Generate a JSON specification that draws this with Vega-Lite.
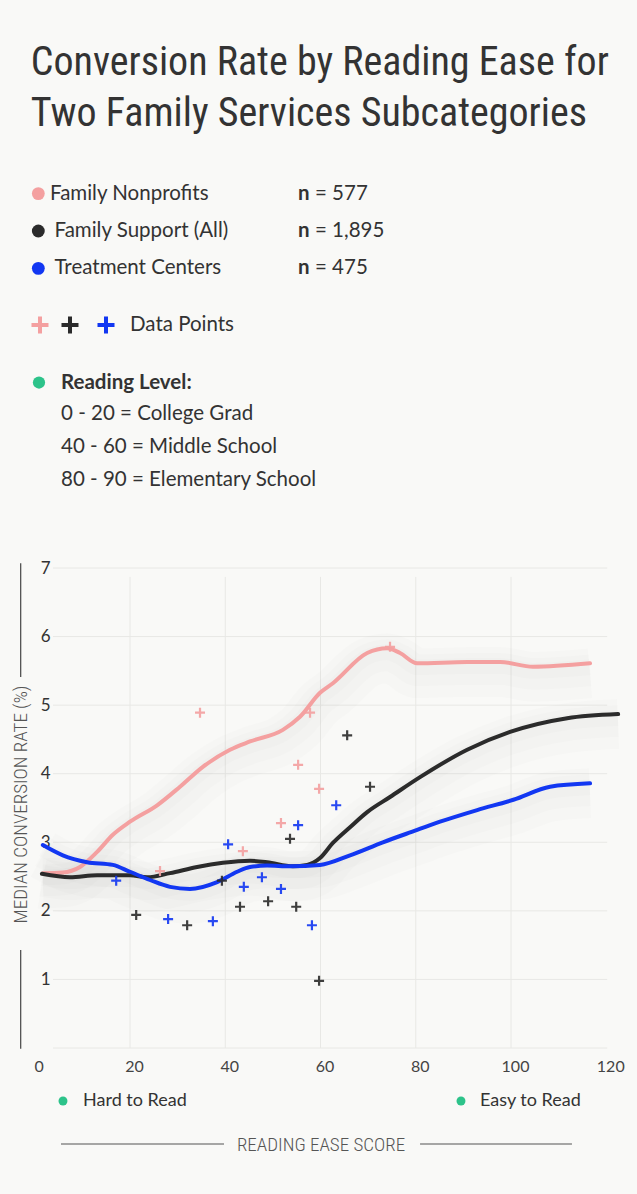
{
"$schema": "https://vega.github.io/schema/vega-lite/v6.json",
"autosize": {"type": "none"},
"width": 571.5,
"height": 480,
"padding": {"left": 34.75, "top": 568, "right": 30.75, "bottom": 146},
"background": "#f9f9f7",
"title": {"text": ["Conversion Rate by Reading Ease for", "Two Family Services Subcategories"], "anchor": "start", "frame": "group", "font": "Roboto Condensed, Liberation Sans Narrow, DejaVu Sans Condensed", "fontSize": 40, "fontWeight": "normal", "color": "#333333", "lineHeight": 51, "baseline": "bottom", "offset": 10, "dx": -4},
"config": {
  "view": {"stroke": null},
  "font": "Lato",
  "axis": {"domain": false, "ticks": false, "grid": false},
  "text": {"font": "Lato", "fontSize": 20.5, "color": "#333333", "align": "left", "baseline": "middle"}
},
"datasets": {
  "curves": [
    {"series": "Family Nonprofits", "score": 1.7, "rate": 2.55},
    {"series": "Family Nonprofits", "score": 5.9, "rate": 2.56},
    {"series": "Family Nonprofits", "score": 9.5, "rate": 2.64},
    {"series": "Family Nonprofits", "score": 13.1, "rate": 2.86},
    {"series": "Family Nonprofits", "score": 16.4, "rate": 3.11},
    {"series": "Family Nonprofits", "score": 20.0, "rate": 3.3},
    {"series": "Family Nonprofits", "score": 25.7, "rate": 3.54},
    {"series": "Family Nonprofits", "score": 30.5, "rate": 3.81},
    {"series": "Family Nonprofits", "score": 35.3, "rate": 4.1},
    {"series": "Family Nonprofits", "score": 41.0, "rate": 4.35},
    {"series": "Family Nonprofits", "score": 45.2, "rate": 4.47},
    {"series": "Family Nonprofits", "score": 52.1, "rate": 4.64},
    {"series": "Family Nonprofits", "score": 55.7, "rate": 4.83},
    {"series": "Family Nonprofits", "score": 59.9, "rate": 5.18},
    {"series": "Family Nonprofits", "score": 62.6, "rate": 5.32},
    {"series": "Family Nonprofits", "score": 69.8, "rate": 5.76},
    {"series": "Family Nonprofits", "score": 74.0, "rate": 5.83},
    {"series": "Family Nonprofits", "score": 76.7, "rate": 5.76},
    {"series": "Family Nonprofits", "score": 80.3, "rate": 5.61},
    {"series": "Family Nonprofits", "score": 90.8, "rate": 5.63},
    {"series": "Family Nonprofits", "score": 97.7, "rate": 5.63},
    {"series": "Family Nonprofits", "score": 104.6, "rate": 5.56},
    {"series": "Family Nonprofits", "score": 116.6, "rate": 5.61},
    {"series": "Family Support (All)", "score": 1.5, "rate": 2.54},
    {"series": "Family Support (All)", "score": 7.4, "rate": 2.49},
    {"series": "Family Support (All)", "score": 13.1, "rate": 2.52},
    {"series": "Family Support (All)", "score": 20.0, "rate": 2.52},
    {"series": "Family Support (All)", "score": 23.6, "rate": 2.49},
    {"series": "Family Support (All)", "score": 28.4, "rate": 2.55},
    {"series": "Family Support (All)", "score": 34.1, "rate": 2.64},
    {"series": "Family Support (All)", "score": 39.5, "rate": 2.7},
    {"series": "Family Support (All)", "score": 45.2, "rate": 2.73},
    {"series": "Family Support (All)", "score": 48.8, "rate": 2.71},
    {"series": "Family Support (All)", "score": 54.2, "rate": 2.65},
    {"series": "Family Support (All)", "score": 57.2, "rate": 2.67},
    {"series": "Family Support (All)", "score": 59.9, "rate": 2.77},
    {"series": "Family Support (All)", "score": 62.6, "rate": 2.99},
    {"series": "Family Support (All)", "score": 66.2, "rate": 3.22},
    {"series": "Family Support (All)", "score": 69.8, "rate": 3.44},
    {"series": "Family Support (All)", "score": 74.6, "rate": 3.66},
    {"series": "Family Support (All)", "score": 80.9, "rate": 3.95},
    {"series": "Family Support (All)", "score": 90.8, "rate": 4.35},
    {"series": "Family Support (All)", "score": 99.8, "rate": 4.61},
    {"series": "Family Support (All)", "score": 111.8, "rate": 4.81},
    {"series": "Family Support (All)", "score": 122.5, "rate": 4.87},
    {"series": "Treatment Centers", "score": 1.7, "rate": 2.96},
    {"series": "Treatment Centers", "score": 5.9, "rate": 2.81},
    {"series": "Treatment Centers", "score": 11.0, "rate": 2.71},
    {"series": "Treatment Centers", "score": 16.4, "rate": 2.67},
    {"series": "Treatment Centers", "score": 20.0, "rate": 2.57},
    {"series": "Treatment Centers", "score": 24.2, "rate": 2.45},
    {"series": "Treatment Centers", "score": 28.4, "rate": 2.35},
    {"series": "Treatment Centers", "score": 32.6, "rate": 2.32},
    {"series": "Treatment Centers", "score": 38.3, "rate": 2.42},
    {"series": "Treatment Centers", "score": 42.5, "rate": 2.57},
    {"series": "Treatment Centers", "score": 45.2, "rate": 2.64},
    {"series": "Treatment Centers", "score": 48.8, "rate": 2.66},
    {"series": "Treatment Centers", "score": 53.6, "rate": 2.65},
    {"series": "Treatment Centers", "score": 59.9, "rate": 2.67},
    {"series": "Treatment Centers", "score": 66.2, "rate": 2.81},
    {"series": "Treatment Centers", "score": 73.1, "rate": 3.0},
    {"series": "Treatment Centers", "score": 80.3, "rate": 3.18},
    {"series": "Treatment Centers", "score": 85.1, "rate": 3.3},
    {"series": "Treatment Centers", "score": 92.9, "rate": 3.47},
    {"series": "Treatment Centers", "score": 100.5, "rate": 3.62},
    {"series": "Treatment Centers", "score": 108.2, "rate": 3.81},
    {"series": "Treatment Centers", "score": 116.6, "rate": 3.86}
  ],
  "points": [
    {"series": "Family Nonprofits", "score": 26.3, "rate": 2.58},
    {"series": "Family Nonprofits", "score": 34.7, "rate": 4.89},
    {"series": "Family Nonprofits", "score": 43.7, "rate": 2.87},
    {"series": "Family Nonprofits", "score": 51.7, "rate": 3.28},
    {"series": "Family Nonprofits", "score": 55.3, "rate": 4.13},
    {"series": "Family Nonprofits", "score": 57.8, "rate": 4.89},
    {"series": "Family Nonprofits", "score": 59.7, "rate": 3.78},
    {"series": "Family Nonprofits", "score": 74.6, "rate": 5.85},
    {"series": "Family Support (All)", "score": 21.3, "rate": 1.94},
    {"series": "Family Support (All)", "score": 32.0, "rate": 1.79},
    {"series": "Family Support (All)", "score": 39.3, "rate": 2.44},
    {"series": "Family Support (All)", "score": 43.1, "rate": 2.06},
    {"series": "Family Support (All)", "score": 49.0, "rate": 2.14},
    {"series": "Family Support (All)", "score": 53.6, "rate": 3.05},
    {"series": "Family Support (All)", "score": 54.9, "rate": 2.06},
    {"series": "Family Support (All)", "score": 59.7, "rate": 0.98},
    {"series": "Family Support (All)", "score": 65.6, "rate": 4.56},
    {"series": "Family Support (All)", "score": 70.4, "rate": 3.81},
    {"series": "Treatment Centers", "score": 17.1, "rate": 2.44},
    {"series": "Treatment Centers", "score": 28.0, "rate": 1.88},
    {"series": "Treatment Centers", "score": 37.4, "rate": 1.85},
    {"series": "Treatment Centers", "score": 40.6, "rate": 2.97},
    {"series": "Treatment Centers", "score": 43.9, "rate": 2.35},
    {"series": "Treatment Centers", "score": 47.7, "rate": 2.49},
    {"series": "Treatment Centers", "score": 51.7, "rate": 2.32},
    {"series": "Treatment Centers", "score": 55.3, "rate": 3.25},
    {"series": "Treatment Centers", "score": 58.2, "rate": 1.79},
    {"series": "Treatment Centers", "score": 63.3, "rate": 3.54}
  ],
  "legend": [
    {"series": "Family Nonprofits", "label": "Family Nonprofits", "count": "= 577"},
    {"series": "Family Support (All)", "label": "Family Support (All)", "count": "= 1,895"},
    {"series": "Treatment Centers", "label": "Treatment Centers", "count": "= 475"}
  ],
  "notes": [
    {"key": "dp", "text": "Data Points"},
    {"key": "rl", "text": "Reading Level:"},
    {"key": "levels", "text": "0 - 20 = College Grad\n40 - 60 = Middle School\n80 - 90 = Elementary School"},
    {"key": "hard", "text": "Hard to Read"},
    {"key": "easy", "text": "Easy to Read"}
  ],
  "gridY": [{"rate": 0}, {"rate": 1}, {"rate": 2}, {"rate": 3}, {"rate": 4}, {"rate": 5}, {"rate": 6}, {"rate": 7}],
  "gridX": [{"score": 20}, {"score": 40}, {"score": 60}, {"score": 80}, {"score": 100}],
  "frame": [{"part": "x-title-left"}, {"part": "x-title-right"}, {"part": "y-title-top"}, {"part": "y-title-bottom"}]
},
"layer": [
  {"data": {"name": "gridY"}, "mark": {"type": "rule", "color": "#e8e8e5", "strokeWidth": 1},
   "encoding": {"y": {"field": "rate", "type": "quantitative"}, "x": {"datum": 3.83}, "x2": {"datum": 120.2}}},
  {"data": {"name": "gridX"}, "mark": {"type": "rule", "color": "#e8e8e5", "strokeWidth": 1},
   "encoding": {"x": {"field": "score", "type": "quantitative"}, "y": {"datum": 0}, "y2": {"datum": 6.87}}},
  {"data": {"name": "curves"}, "mark": {"type": "line", "interpolate": "monotone", "strokeWidth": 50, "color": "#000000", "opacity": 0.01, "yOffset": 10},
   "encoding": {"x": {"field": "score", "type": "quantitative"}, "y": {"field": "rate", "type": "quantitative"}, "detail": {"field": "series", "type": "nominal"}}},
  {"data": {"name": "curves"}, "mark": {"type": "line", "interpolate": "monotone", "strokeWidth": 32, "color": "#000000", "opacity": 0.01, "yOffset": 7},
   "encoding": {"x": {"field": "score", "type": "quantitative"}, "y": {"field": "rate", "type": "quantitative"}, "detail": {"field": "series", "type": "nominal"}}},
  {"data": {"name": "curves"}, "mark": {"type": "line", "interpolate": "monotone", "strokeWidth": 16, "color": "#000000", "opacity": 0.01, "yOffset": 4},
   "encoding": {"x": {"field": "score", "type": "quantitative"}, "y": {"field": "rate", "type": "quantitative"}, "detail": {"field": "series", "type": "nominal"}}},
  {"data": {"name": "curves"}, "mark": {"type": "line", "interpolate": "monotone", "strokeWidth": 4, "strokeCap": "round"},
   "encoding": {
     "x": {"field": "score", "type": "quantitative", "scale": {"domain": [0, 120], "nice": false, "zero": false},
       "axis": {"title": "READING EASE SCORE", "values": [0, 20, 40, 60, 80, 100, 120], "format": "d", "labelFont": "Lato", "labelFontSize": 16, "labelColor": "#444444", "labelPadding": 10, "labelFlush": false, "labelOffset": 4, "labelOverlap": false,
         "titleFont": "Roboto Condensed, Liberation Sans Narrow, DejaVu Sans Condensed", "titleFontSize": 19, "titleFontWeight": 300, "titleColor": "#555555", "titleY": 96, "titleBaseline": "middle"}},
     "y": {"field": "rate", "type": "quantitative", "scale": {"domain": [0, 7], "nice": false, "zero": false},
       "axis": {"title": "MEDIAN CONVERSION RATE (%)", "values": [1, 2, 3, 4, 5, 6, 7], "format": "d", "labelFont": "Lato", "labelFontSize": 17, "labelColor": "#333333", "labelPadding": -15.25, "labelAlign": "right", "labelBaseline": "middle", "labelFlush": false, "labelOverlap": false,
         "titleFont": "Roboto Condensed, Liberation Sans Narrow, DejaVu Sans Condensed", "titleFontSize": 19, "titleFontWeight": 300, "titleColor": "#555555", "titleAngle": 270, "titleX": -14.25, "titleY": 236, "titleAlign": "center", "titleBaseline": "middle"}},
     "color": {"field": "series", "type": "nominal", "scale": {"domain": ["Family Nonprofits", "Family Support (All)", "Treatment Centers"], "range": ["#F4A0A0", "#2B2B2B", "#1237F2"]}, "legend": null}
   }},
  {"data": {"name": "points"}, "mark": {"type": "point", "shape": "M-1,0L1,0M0,-1L0,1", "filled": false, "size": 100, "strokeWidth": 2.2, "opacity": 0.9},
   "encoding": {"x": {"field": "score", "type": "quantitative"}, "y": {"field": "rate", "type": "quantitative"}, "color": {"field": "series", "type": "nominal", "legend": null}}},

  {"data": {"name": "legend"}, "transform": [{"filter": "datum.series === 'Family Nonprofits'"}], "encoding": {"y": {"datum": 12.46}},
   "layer": [
     {"mark": {"type": "circle", "size": 165, "opacity": 1}, "encoding": {"x": {"datum": 0.75}, "color": {"field": "series", "type": "nominal", "legend": null}}},
     {"mark": {"type": "text"}, "encoding": {"x": {"datum": 3.2}, "text": {"field": "label"}}},
     {"mark": {"type": "text", "text": "n", "fontWeight": "bold"}, "encoding": {"x": {"datum": 55.27}}},
     {"mark": {"type": "text"}, "encoding": {"x": {"datum": 58.84}, "text": {"field": "count"}}}
   ]},
  {"data": {"name": "legend"}, "transform": [{"filter": "datum.series === 'Family Support (All)'"}], "encoding": {"y": {"datum": 11.915}},
   "layer": [
     {"mark": {"type": "circle", "size": 165, "opacity": 1}, "encoding": {"x": {"datum": 0.75}, "color": {"field": "series", "type": "nominal", "legend": null}}},
     {"mark": {"type": "text"}, "encoding": {"x": {"datum": 4.15}, "text": {"field": "label"}}},
     {"mark": {"type": "text", "text": "n", "fontWeight": "bold"}, "encoding": {"x": {"datum": 55.27}}},
     {"mark": {"type": "text"}, "encoding": {"x": {"datum": 58.84}, "text": {"field": "count"}}}
   ]},
  {"data": {"name": "legend"}, "transform": [{"filter": "datum.series === 'Treatment Centers'"}], "encoding": {"y": {"datum": 11.37}},
   "layer": [
     {"mark": {"type": "circle", "size": 165, "opacity": 1}, "encoding": {"x": {"datum": 0.75}, "color": {"field": "series", "type": "nominal", "legend": null}}},
     {"mark": {"type": "text"}, "encoding": {"x": {"datum": 4.15}, "text": {"field": "label"}}},
     {"mark": {"type": "text", "text": "n", "fontWeight": "bold"}, "encoding": {"x": {"datum": 55.27}}},
     {"mark": {"type": "text"}, "encoding": {"x": {"datum": 58.84}, "text": {"field": "count"}}}
   ]},

  {"data": {"name": "legend"}, "encoding": {"y": {"datum": 10.544}},
   "layer": [
     {"transform": [{"filter": "datum.series === 'Family Nonprofits'"}], "mark": {"type": "point", "shape": "M-1,0L1,0M0,-1L0,1", "filled": false, "size": 289, "strokeWidth": 4, "opacity": 1}, "encoding": {"x": {"datum": 1.1}, "color": {"field": "series", "type": "nominal", "legend": null}}},
     {"transform": [{"filter": "datum.series === 'Family Support (All)'"}], "mark": {"type": "point", "shape": "M-1,0L1,0M0,-1L0,1", "filled": false, "size": 289, "strokeWidth": 4, "opacity": 1}, "encoding": {"x": {"datum": 7.4}, "color": {"field": "series", "type": "nominal", "legend": null}}},
     {"transform": [{"filter": "datum.series === 'Treatment Centers'"}], "mark": {"type": "point", "shape": "M-1,0L1,0M0,-1L0,1", "filled": false, "size": 289, "strokeWidth": 4, "opacity": 1}, "encoding": {"x": {"datum": 14.96}, "color": {"field": "series", "type": "nominal", "legend": null}}}
   ]},
  {"data": {"name": "notes"}, "transform": [{"filter": "datum.key === 'dp'"}], "mark": {"type": "text"},
   "encoding": {"x": {"datum": 20.0}, "y": {"datum": 10.544}, "text": {"field": "text"}}},

  {"data": {"name": "notes"}, "transform": [{"filter": "datum.key === 'rl'"}], "encoding": {"y": {"datum": 9.705}},
   "layer": [
     {"mark": {"type": "circle", "size": 150, "color": "#2DC38A", "opacity": 1}, "encoding": {"x": {"datum": 0.89}}},
     {"mark": {"type": "text", "fontWeight": "bold"}, "encoding": {"x": {"datum": 5.51}, "text": {"field": "text"}}}
   ]},
  {"data": {"name": "notes"}, "transform": [{"filter": "datum.key === 'levels'"}], "mark": {"type": "text", "lineBreak": "\n", "lineHeight": 33},
   "encoding": {"x": {"datum": 5.51}, "y": {"datum": 9.246}, "text": {"field": "text"}}},

  {"data": {"name": "notes"}, "transform": [{"filter": "datum.key === 'hard'"}], "encoding": {"y": {"datum": -0.773}},
   "layer": [
     {"mark": {"type": "circle", "size": 80, "color": "#2DC38A", "opacity": 1}, "encoding": {"x": {"datum": 5.93}}},
     {"mark": {"type": "text", "fontSize": 18}, "encoding": {"x": {"datum": 10.14}, "text": {"field": "text"}}}
   ]},
  {"data": {"name": "notes"}, "transform": [{"filter": "datum.key === 'easy'"}], "encoding": {"y": {"datum": -0.773}},
   "layer": [
     {"mark": {"type": "circle", "size": 80, "color": "#2DC38A", "opacity": 1}, "encoding": {"x": {"datum": 89.5}}},
     {"mark": {"type": "text", "fontSize": 18}, "encoding": {"x": {"datum": 93.5}, "text": {"field": "text"}}}
   ]},

  {"data": {"name": "frame"}, "transform": [{"filter": "datum.part === 'x-title-left'"}], "mark": {"type": "rule", "color": "#555555", "strokeWidth": 1.2},
   "encoding": {"x": {"datum": 5.51}, "x2": {"datum": 39.74}, "y": {"datum": -1.4}}},
  {"data": {"name": "frame"}, "transform": [{"filter": "datum.part === 'x-title-right'"}], "mark": {"type": "rule", "color": "#555555", "strokeWidth": 1.2},
   "encoding": {"x": {"datum": 80.9}, "x2": {"datum": 112.8}, "y": {"datum": -1.4}}},
  {"data": {"name": "frame"}, "transform": [{"filter": "datum.part === 'y-title-top'"}], "mark": {"type": "rule", "color": "#444444", "strokeWidth": 1.2},
   "encoding": {"x": {"datum": -2.95}, "y": {"datum": 5.41}, "y2": {"datum": 7.07}}},
  {"data": {"name": "frame"}, "transform": [{"filter": "datum.part === 'y-title-bottom'"}], "mark": {"type": "rule", "color": "#444444", "strokeWidth": 1.2},
   "encoding": {"x": {"datum": -2.95}, "y": {"datum": -0.01}, "y2": {"datum": 1.43}}}
]
}
